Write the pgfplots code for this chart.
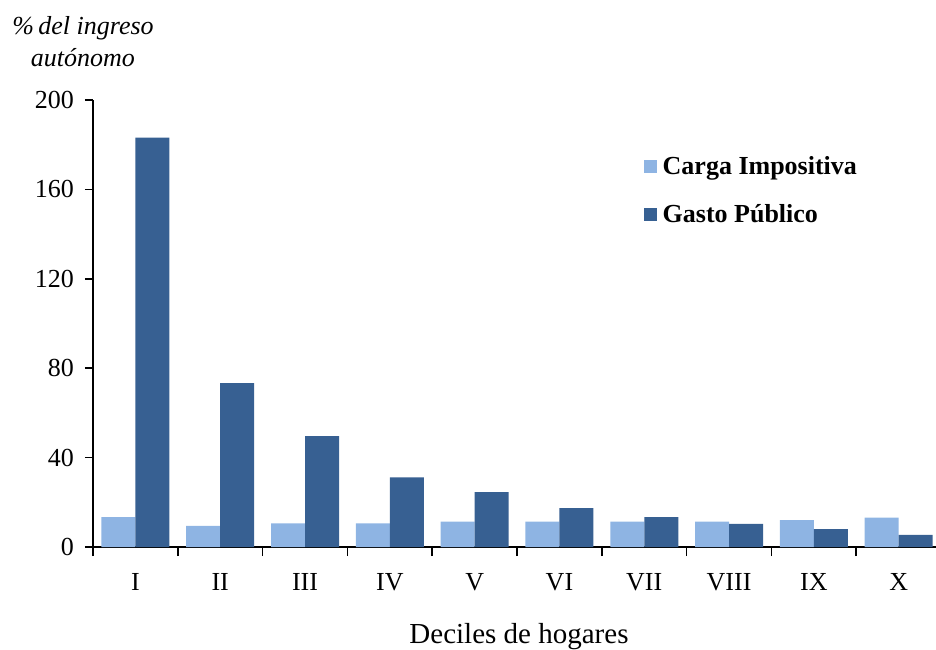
\documentclass[border=0pt]{standalone}
\usepackage{fontspec}
\setmainfont{Liberation Serif}
\usepackage{pgfplots}
\pgfplotsset{compat=1.18}
\definecolor{lightb}{HTML}{8EB4E3}
\definecolor{darkb}{HTML}{376092}
\begin{document}
\begin{tikzpicture}
\begin{axis}[
  scale only axis,
  width=421.5pt, height=223.5pt,
  at={(0,0)}, anchor=south west,
  xmin=0.5, xmax=10.44,
  ymin=0, ymax=200,
  ytick={0,40,80,120,160,200},
  xtick={1,2,3,4,5,6,7,8,9,10},
  xticklabels={I,II,III,IV,V,VI,VII,VIII,IX,X},
  major x tick style={draw=none},
  minor xtick={0.5,1.5,2.5,3.5,4.5,5.5,6.5,7.5,8.5,9.5},
  minor tick length=4.5pt,
  major tick length=4pt,
  tick align=outside,
  tick style={black, line width=0.8pt},
  axis x line*=bottom, axis y line*=left,
  axis line style={-, line width=1pt},
  ticklabel style={font=\fontsize{13}{15}\selectfont},
  /pgf/number format/assume math mode=true,
  xticklabel style={yshift=-5.5pt},
  yticklabel style={xshift=-2pt},
  ybar, bar width=17pt,
  clip=true,
  legend style={at={(rel axis cs:0.653,0.884)}, anchor=north west, draw=none, fill=none,
    font=\fontsize{13}{15}\bfseries\selectfont, row sep=9.5pt,
    inner sep=0pt, /tikz/every odd column/.append style={column sep=1pt}},
  legend cell align=left,
  legend image code/.code={\fill[#1] (0pt,-3.2pt) rectangle (6.4pt,3.2pt);},
]
\addplot[fill=lightb, draw=none, bar shift=-8.5pt] coordinates {
(1,13.4) (2,9.4) (3,10.6) (4,10.6) (5,11.4) (6,11.4) (7,11.4) (8,11.3) (9,12.0) (10,13.2)};
\addlegendentry{Carga Impositiva}
\addplot[fill=darkb, draw=none, bar shift=8.5pt] coordinates {
(1,183.2) (2,73.3) (3,49.6) (4,31.2) (5,24.6) (6,17.4) (7,13.4) (8,10.3) (9,8.0) (10,5.4)};
\addlegendentry{Gasto Público}
\end{axis}
\node[align=center, font=\fontsize{13}{16}\itshape\selectfont] at (-5pt,252.5pt) {\%\,del ingreso\\autónomo};
\node[anchor=base, font=\fontsize{14.5}{16}\selectfont] at (213pt,-48pt) {Deciles de hogares};
\pgfresetboundingbox
\path (-46.5pt,-51pt) rectangle (421.5pt,273.5pt);
\end{tikzpicture}
\end{document}
